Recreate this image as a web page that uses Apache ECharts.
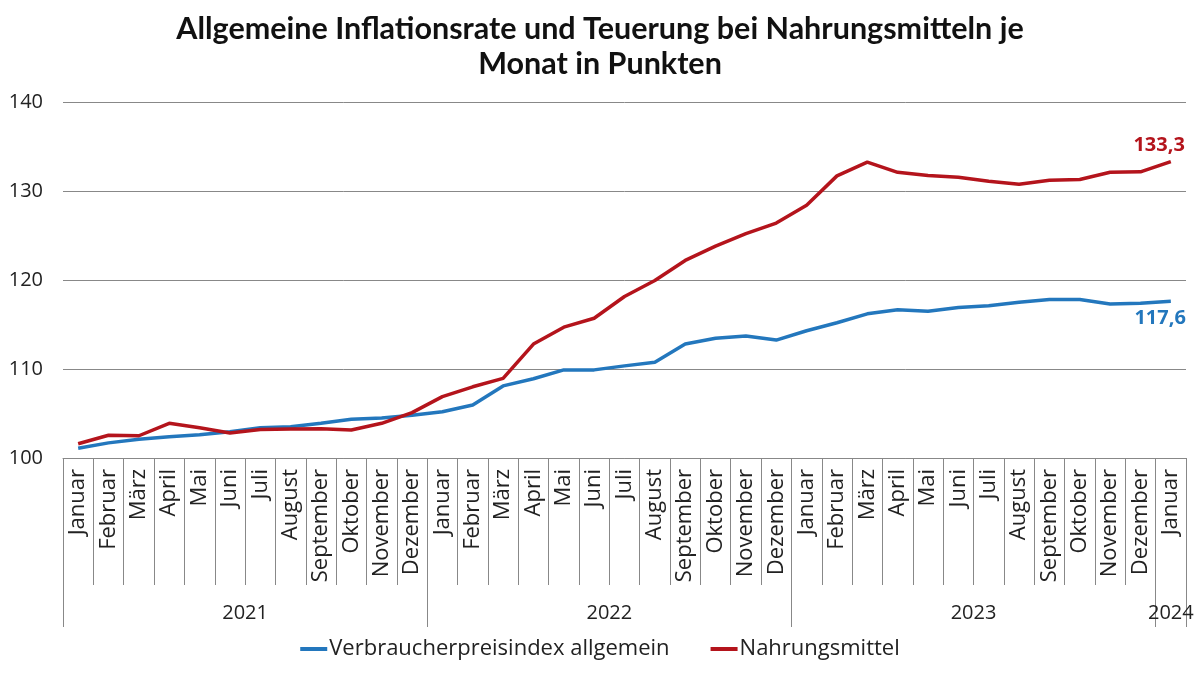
<!DOCTYPE html>
<html>
<head>
<meta charset="utf-8">
<script src="https://cdn.jsdelivr.net/npm/echarts@6/dist/echarts.min.js"></script>
<style>html,body{margin:0;padding:0;background:#fff}#c{width:1200px;height:675px}</style>
</head>
<body>
<div id="c"></div>
<script>
var months = ['Januar','Februar','März','April','Mai','Juni','Juli','August','September','Oktober','November','Dezember',
  'Januar','Februar','März','April','Mai','Juni','Juli','August','September','Oktober','November','Dezember',
  'Januar','Februar','März','April','Mai','Juni','Juli','August','September','Oktober','November','Dezember',
  'Januar'];
var years = ['2021','2022','2023','2024'];
var yearBoundaries = [0, 12, 24, 36, 37];
var yearCenters = [6, 18, 30, 36.5];
var vpi = [101.1,101.7,102.1,102.4,102.6,102.95,103.4,103.5,103.9,104.35,104.5,104.8,
  105.2,105.95,108.1,108.9,109.9,109.9,110.35,110.75,112.8,113.45,113.7,113.25,
  114.3,115.2,116.2,116.65,116.5,116.9,117.1,117.5,117.8,117.8,117.3,117.4,117.6];
var food = [101.6,102.55,102.5,103.9,103.4,102.8,103.2,103.25,103.3,103.15,103.9,105.1,
  106.9,108.0,108.95,112.8,114.7,115.7,118.15,119.95,122.2,123.8,125.2,126.4,
  128.4,131.7,133.25,132.1,131.75,131.55,131.1,130.75,131.2,131.3,132.1,132.15,133.3];
var seriesNames = ['Verbraucherpreisindex allgemein', 'Nahrungsmittel'];
var yTicks = {min: 100, max: 140, interval: 10};

var BLUE = '#2377bd', RED = '#b4141c';
var FONT = 'Open Sans';

function fmt(v) { return v.toFixed(1).replace('.', ','); }

var chart = echarts.init(document.getElementById('c'));
chart.setOption({
  animation: false,
  backgroundColor: '#fff',
  title: {
    text: 'Allgemeine Inflationsrate und Teuerung bei Nahrungsmitteln je\nMonat in Punkten',
    left: 'center', top: 7,
    textStyle: {fontFamily: 'Lato', fontWeight: 'bold', fontSize: 30.5, lineHeight: 35, color: '#111'}
  },
  legend: {
    bottom: 10, left: 'center', itemGap: 41, itemWidth: 27, itemHeight: 4, icon: 'rect',
    textStyle: {fontFamily: FONT, fontSize: 22, color: '#222', padding: [0, 0, 0, -3]},
    data: seriesNames
  },
  grid: {left: 63, right: 14, top: 102, bottom: 217, containLabel: false},
  xAxis: [{
    type: 'category', data: months, boundaryGap: true, position: 'bottom',
    axisLine: {show: true, lineStyle: {color: '#888', width: 1}},
    axisTick: {show: true, interval: 0, length: 127, lineStyle: {color: '#888', width: 1}},
    axisLabel: {interval: 0, rotate: 90, margin: 11, fontFamily: FONT, fontSize: 22, color: '#222'}
  }, {
    type: 'value', min: 0, max: 37, position: 'bottom',
    axisLine: {show: false}, splitLine: {show: false},
    axisTick: {show: true, customValues: yearBoundaries, length: 169, lineStyle: {color: '#888', width: 1}},
    axisLabel: {
      show: true, customValues: yearCenters, margin: 145, fontFamily: FONT, fontSize: 20, color: '#222',
      formatter: function (v) { return years[yearCenters.indexOf(v)]; }
    }
  }],
  yAxis: {
    type: 'value', min: yTicks.min, max: yTicks.max, interval: yTicks.interval,
    axisLine: {show: false}, axisTick: {show: false},
    axisLabel: {margin: 20, fontFamily: FONT, fontSize: 20, color: '#222'},
    splitLine: {show: true, lineStyle: {color: '#888', width: 1}}
  },
  series: [{
    name: seriesNames[0], type: 'line', xAxisIndex: 0, data: vpi,
    symbol: 'none', lineStyle: {color: BLUE, width: 3.5}, itemStyle: {color: BLUE},
    endLabel: {
      show: true, align: 'right', verticalAlign: 'middle', offset: [7, 17],
      formatter: function (p) { return fmt(p.value); },
      color: BLUE, fontFamily: FONT, fontWeight: 'bold', fontSize: 20
    }
  }, {
    name: seriesNames[1], type: 'line', xAxisIndex: 0, data: food,
    symbol: 'none', lineStyle: {color: RED, width: 3.5}, itemStyle: {color: RED},
    endLabel: {
      show: true, align: 'right', verticalAlign: 'middle', offset: [6, -16],
      formatter: function (p) { return fmt(p.value); },
      color: RED, fontFamily: FONT, fontWeight: 'bold', fontSize: 20
    }
  }]
});
</script>
</body>
</html>
